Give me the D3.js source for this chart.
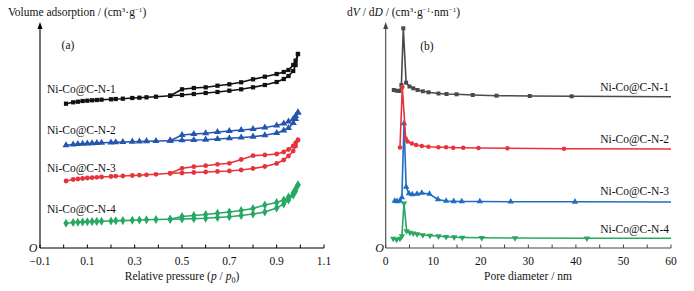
<!DOCTYPE html>
<html><head><meta charset="utf-8">
<script src="https://cdn.jsdelivr.net/npm/d3@7/dist/d3.min.js"></script>
<style>
body{margin:0;background:#fff;}
text{font-family:"Liberation Serif","Times New Roman",serif;}
</style></head>
<body><svg id="c" width="694" height="291"></svg>
<script>
// ---------- Panel (a): N2 isotherms ----------
const seriesNames = ["Ni-Co@C-N-1","Ni-Co@C-N-2","Ni-Co@C-N-3","Ni-Co@C-N-4"];
const pAds = [0.01,0.04,0.06,0.08,0.10,0.12,0.14,0.16,0.20,0.22,0.25,0.29,0.32,0.35,0.39,0.45,0.50,0.55,0.60,0.65,0.70,0.75,0.80,0.85,0.90,0.93,0.95,0.97,0.98,0.99];
const pDes = [0.99,0.98,0.97,0.95,0.93,0.90,0.85,0.80,0.75,0.70,0.65,0.60,0.55,0.50,0.45];
// volume adsorbed (arbitrary offset units)
const ads1 = [144.3,145.7,146.3,147,147.3,147.7,148,148.3,148.7,149,149.3,150,150.3,150.7,151.3,152.3,153,154,155,156,157.3,158.7,160.7,163,166,169,172,177,183,194];
const des1 = [194,187.3,183,178,176,174,171.3,168.7,165.7,163.7,162.3,160.7,160,158.7,152.3];
const ads2 = [102.7,103.5,104,104.2,104.5,104.7,105,105.2,105.5,105.7,106,106.3,106.5,106.8,107,107.3,107.7,108,108.3,109,109.7,110.5,111.3,112.7,115,117.5,120,125,129,135.5];
const des2 = [135.5,132,129,126.5,124.5,122.5,120.5,119,118,117,116,114.7,114,113,107.3];
const ads3 = [67,68.5,69,69.5,70,70.3,70.7,71,71.5,71.8,72,72.5,72.8,73.2,73.7,74.7,75,75.5,76,76.5,77,78,79.5,81.5,84.5,88,92,97,102,108];
const des3 = [108,105,102,98.5,96,94,93,92.3,88.5,84.7,83.7,82.3,81.3,79.7,74.7];
const ads4 = [24.7,25.5,25.8,26,26.2,26.4,26.6,26.8,27,27.2,27.4,27.7,28,28.2,28.5,28.8,29,29.4,29.8,30.5,31.3,32.5,34,36,40,44,48,53,57,63];
const des4 = [63,59,55,51,48,45.5,43,39.5,37.5,36,34.8,33.5,32.5,31.5,28.8];

// ---------- Panel (b): pore size distributions ----------
const diam1 = [1.7,2.3,2.9,3.3,3.7,4.3,5.0,5.8,6.7,7.8,9.0,11.1,12.8,14.9,18.3,23.3,30.3,39.1,60];
const psd1 = [158,157.3,157,163,219.7,165.3,161.5,159.7,158,156.7,155.7,154.5,154,153.7,153,152.3,152,151.7,151.2];
const diam2 = [3.0,3.5,4.2,4.6,5.5,6.4,7.6,9.0,11.1,12.7,14.2,16.3,19.5,25.6,37.5,60];
const psd2 = [100.5,161,109.5,106.5,104.5,103,102,101.3,100.7,100.7,100.3,100.3,100,99.7,99.3,99];
const diam3 = [1.9,2.4,3.0,3.4,3.85,4.3,4.9,5.6,6.6,7.6,9.2,11.0,12.7,14.3,16.0,19.8,26.3,39.8,60];
const psd3 = [47,46.7,47,50.5,124.7,61,54.5,53.5,54,55,54,48.5,47,46.7,46.5,46.5,46.3,46.2,46];
const diam4 = [1.6,2.3,3.0,3.4,3.85,4.4,5.1,5.8,6.6,7.8,9.3,11.1,12.7,14.4,16.1,20.2,27.2,42.3,60];
const psd4 = [9.5,8.5,9.5,12,44.7,17,15.5,14.7,14,13,12.5,11.8,11.2,10.8,10.5,10.2,10,9.7,9.7];

const xTicksA = [-0.1,0,0.1,0.2,0.3,0.4,0.5,0.6,0.7,0.8,0.9,1.0,1.1];
const xLabelsA = [-0.1,0.1,0.3,0.5,0.7,0.9,1.1];
const xTicksB = [0,5,10,15,20,25,30,35,40,45,50,55,60];
const xLabelsB = [0,10,20,30,40,50,60];

const svg = d3.select("#c");
const yTop = 23, yBot = 248;
const y = d3.scaleLinear().domain([0,225]).range([yBot,yTop]);
const xa = d3.scaleLinear().domain([-0.1,1.1]).range([40,324]);
const xb = d3.scaleLinear().domain([0,60]).range([385.7,671]);

const fmt = v => (v<0?"\u2212":"")+Math.abs(v).toString();

function axes(x, ticks, labels, col, yAxisX, oX){
  const g = svg.append("g");
  g.append("line").attr("x1",x.range()[0]).attr("x2",x.range()[1]).attr("y1",yBot).attr("y2",yBot).attr("stroke",col).attr("stroke-width",1.1);
  g.selectAll(".t").data(ticks).enter().append("line")
    .attr("x1",d=>x(d)).attr("x2",d=>x(d)).attr("y1",yBot).attr("y2",yBot-3.5).attr("stroke",col).attr("stroke-width",1);
  g.selectAll(".l").data(labels).enter().append("text")
    .attr("x",d=>x(d)).attr("y",yBot+17).attr("text-anchor","middle").attr("font-size",11.5).attr("fill","#111").text(fmt);
  g.append("line").attr("x1",yAxisX).attr("x2",yAxisX).attr("y1",yBot).attr("y2",yTop+2).attr("stroke",col).attr("stroke-width",1.1);
  g.append("path").attr("d",`M${yAxisX-2.5},${yTop+6}L${yAxisX},${yTop-1}L${yAxisX+2.5},${yTop+6}Z`).attr("fill",col);
  g.append("text").attr("x",oX).attr("y",yBot+4).attr("font-size",12).attr("font-style","italic").attr("text-anchor","middle").attr("fill","#111").text("O");
}
axes(xa, xTicksA, xLabelsA, "#000", 40, 33);
axes(xb, xTicksB, xLabelsB, "#444", 385.7, 379.5);

// titles
const tA = svg.append("text").attr("x",182).attr("y",280).attr("text-anchor","middle").attr("font-size",11.5).attr("fill","#111");
tA.append("tspan").text("Relative pressure (");
tA.append("tspan").attr("font-style","italic").text("p");
tA.append("tspan").text(" / ");
tA.append("tspan").attr("font-style","italic").text("p");
tA.append("tspan").attr("font-size",8).attr("dy",2.5).text("0");
tA.append("tspan").attr("dy",-2.5).text(")");
svg.append("text").attr("x",528).attr("y",280).attr("text-anchor","middle").attr("font-size",11.5).attr("fill","#111").text("Pore diameter / nm");

const yA = svg.append("text").attr("x",8).attr("y",16).attr("font-size",11.5).attr("fill","#111");
yA.append("tspan").text("Volume adsorption / (cm");
yA.append("tspan").attr("font-size",7).attr("dy",-4).text("3");
yA.append("tspan").attr("dy",4).text("\u00b7g");
yA.append("tspan").attr("font-size",7).attr("dy",-4).text("\u22121");
yA.append("tspan").attr("dy",4).text(")");

const yB = svg.append("text").attr("x",347).attr("y",16).attr("font-size",11.5).attr("fill","#111");
yB.append("tspan").text("d");
yB.append("tspan").attr("font-style","italic").text("V");
yB.append("tspan").text(" / d");
yB.append("tspan").attr("font-style","italic").text("D");
yB.append("tspan").text(" / (cm");
yB.append("tspan").attr("font-size",7).attr("dy",-4).text("3");
yB.append("tspan").attr("dy",4).text("\u00b7g");
yB.append("tspan").attr("font-size",7).attr("dy",-4).text("\u22121");
yB.append("tspan").attr("dy",4).text("\u00b7nm");
yB.append("tspan").attr("font-size",7).attr("dy",-4).text("\u22121");
yB.append("tspan").attr("dy",4).text(")");

svg.append("text").attr("x",68).attr("y",49).attr("text-anchor","middle").attr("font-size",11.5).attr("fill","#111").text("(a)");
svg.append("text").attr("x",427).attr("y",50).attr("text-anchor","middle").attr("font-size",11.5).attr("fill","#111").text("(b)");

// ---------- draw isotherms ----------
const symbols = [d3.symbolSquare, d3.symbolTriangle, d3.symbolCircle, d3.symbolDiamond];
const colA = ["#111111","#2456b0","#e8333b","#27a862"];
const colB = ["#4a4a4a","#e8333b","#1f6ec2","#27a862"];
const adsAll = [ads1,ads2,ads3,ads4], desAll = [des1,des2,des3,des4];
const sizesA = [18,22,18,24];
const line = d3.line();

adsAll.forEach((ads,i)=>{
  const g = svg.append("g");
  const A = pAds.map((p,k)=>[xa(p),y(ads[k])]);
  const D = pDes.map((p,k)=>[xa(p),y(desAll[i][k])]);
  g.append("path").attr("d",line(A)).attr("fill","none").attr("stroke",colA[i]).attr("stroke-width",1.6);
  g.append("path").attr("d",line(D)).attr("fill","none").attr("stroke",colA[i]).attr("stroke-width",1.6);
  const pts = A.concat(D);
  g.selectAll("path.m").data(pts).enter().append("path").attr("class","m")
    .attr("transform",d=>`translate(${d[0]},${d[1]})`)
    .attr("d",d3.symbol().type(symbols[i]).size(sizesA[i])).attr("fill",colA[i]);
});
const labYA = [89,130,168,209];
seriesNames.forEach((n,i)=>{
  svg.append("text").attr("x",47).attr("y",labYA[i]+4).attr("font-size",11.5).attr("fill","#111").text(n);
});

// ---------- draw PSD ----------
const dAll = [diam1,diam2,diam3,diam4], vAll = [psd1,psd2,psd3,psd4];
const symB = [d3.symbolSquare, d3.symbolCircle, d3.symbolTriangle, d3.symbolTriangle];
const sizesB = [16,16,18,18];
const drawOrder = [0,2,3,1];
drawOrder.forEach(i=>{
  const g = svg.append("g");
  const P = dAll[i].map((d,k)=>[xb(d),y(vAll[i][k])]);
  g.append("path").attr("d",line(P)).attr("fill","none").attr("stroke",colB[i]).attr("stroke-width",1.6);
  g.selectAll("path.m").data(P.slice(0,-1)).enter().append("path").attr("class","m")
    .attr("transform",d=>`translate(${d[0]},${d[1]})` + (i===3?" rotate(180)":""))
    .attr("d",d3.symbol().type(symB[i]).size(sizesB[i])).attr("fill",colB[i]);
});
const labYB = [87,139,191,229];
seriesNames.forEach((n,i)=>{
  svg.append("text").attr("x",669).attr("y",labYB[i]+4).attr("text-anchor","end").attr("font-size",11.5).attr("fill","#111").text(n);
});
</script></body></html>
